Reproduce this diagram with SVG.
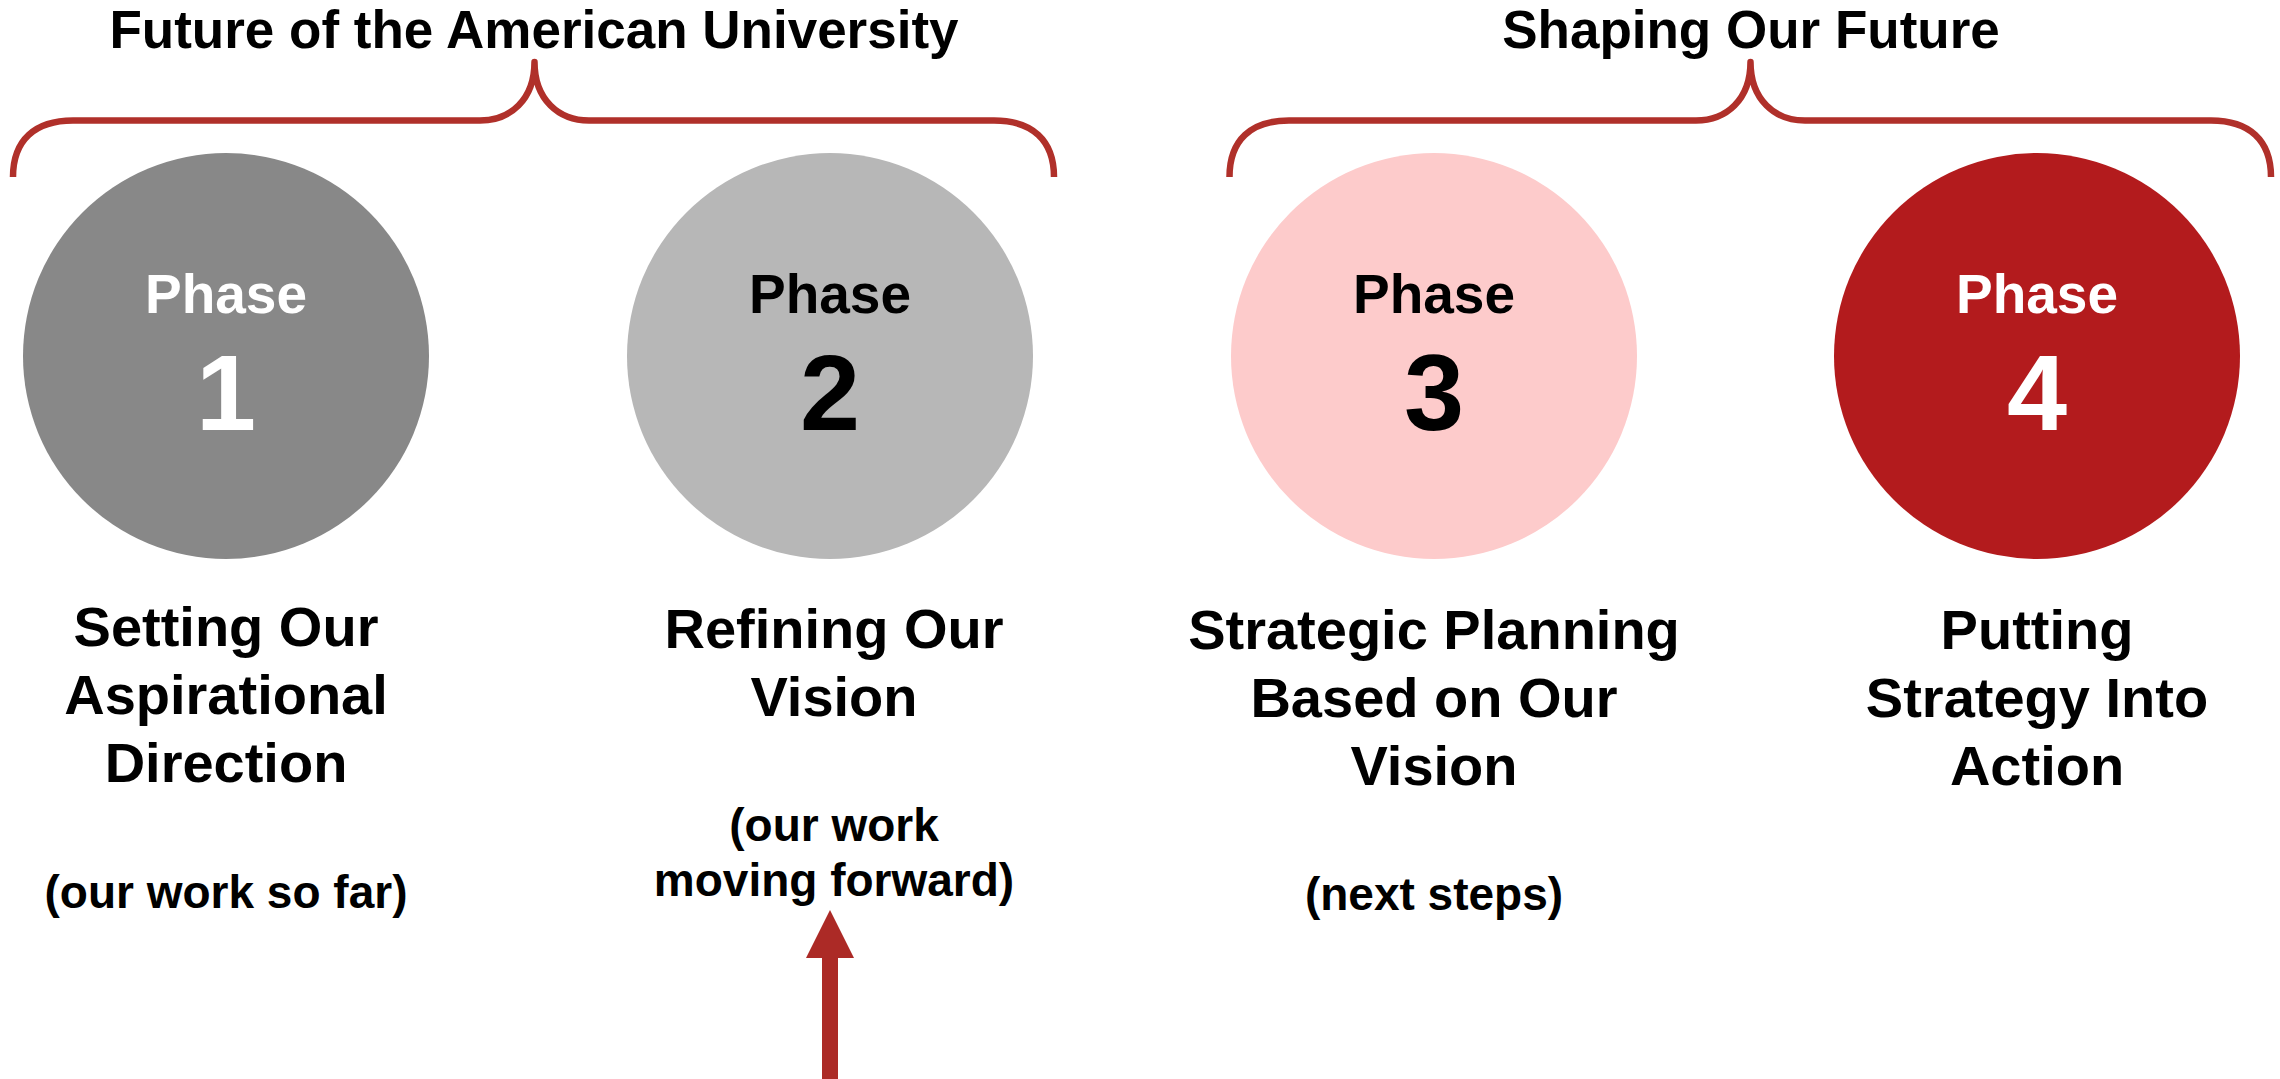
<svg xmlns="http://www.w3.org/2000/svg" width="2280" height="1079" viewBox="0 0 2280 1079">
<style>
text{font-family:"Liberation Sans",Arial,sans-serif;font-weight:bold;text-anchor:middle;fill:#000}
.title{font-size:53px}
.phase{font-size:55px}
.num{font-size:108px}
.lbl{font-size:56px}
.sub{font-size:46px}
.w{fill:#fff}
.brace{fill:none;stroke:#b0302a;stroke-width:6.5;stroke-linecap:butt;stroke-linejoin:round}
</style>
<rect width="2280" height="1079" fill="#fff"/>
<g id="header1">
<text class="title" x="534" y="48">Future of the American University</text>
<path class="brace" d="M13,177 C13,140 35,120.5 73,120.5 L480,120.5 C510,120.5 534.5,100 534.5,62 C534.5,100 559,120.5 589,120.5 L994,120.5 C1032,120.5 1054,140 1054,177"/>
</g>
<g id="header2">
<text class="title" x="1751" y="48">Shaping Our Future</text>
<path class="brace" d="M1229.5,177 C1229.5,140 1251,120.5 1289,120.5 L1696,120.5 C1726,120.5 1750.5,100 1750.5,62 C1750.5,100 1775,120.5 1805,120.5 L2211,120.5 C2249,120.5 2271,140 2271,177"/>
</g>
<g id="phase1">
<circle cx="226" cy="356" r="203" fill="#888888"/>
<text class="phase w" x="226" y="313">Phase</text>
<text class="num w" x="226" y="430">1</text>
<text class="lbl" x="226" y="646">Setting Our</text>
<text class="lbl" x="226" y="714">Aspirational</text>
<text class="lbl" x="226" y="782">Direction</text>
<text class="sub" x="226" y="908">(our work so far)</text>
</g>
<g id="phase2">
<circle cx="830" cy="356" r="203" fill="#b7b7b7"/>
<text class="phase" x="830" y="313">Phase</text>
<text class="num" x="830" y="430">2</text>
<text class="lbl" x="834" y="648">Refining Our</text>
<text class="lbl" x="834" y="716">Vision</text>
<text class="sub" x="834" y="841">(our work</text>
<text class="sub" x="834" y="896">moving forward)</text>
</g>
<g id="phase3">
<circle cx="1434" cy="356" r="203" fill="#fdcbcb"/>
<text class="phase" x="1434" y="313">Phase</text>
<text class="num" x="1434" y="430">3</text>
<text class="lbl" x="1434" y="649">Strategic Planning</text>
<text class="lbl" x="1434" y="717">Based on Our</text>
<text class="lbl" x="1434" y="785">Vision</text>
<text class="sub" x="1434" y="910">(next steps)</text>
</g>
<g id="phase4">
<circle cx="2037" cy="356" r="203" fill="#b31b1d"/>
<text class="phase w" x="2037" y="313">Phase</text>
<text class="num w" x="2037" y="430">4</text>
<text class="lbl" x="2037" y="649">Putting</text>
<text class="lbl" x="2037" y="717">Strategy Into</text>
<text class="lbl" x="2037" y="785">Action</text>
</g>
<g id="connectors">
<path d="M822,1079 L822,958 L806,958 L830,910 L854,958 L838,958 L838,1079 Z" fill="#ac2a26"/>
</g>
</svg>
